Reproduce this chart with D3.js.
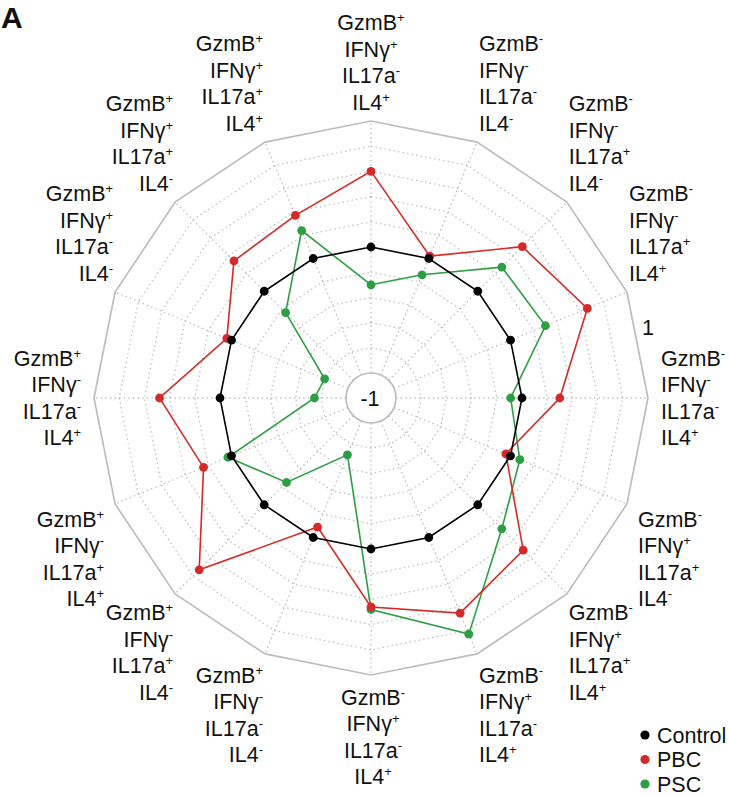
<!DOCTYPE html>
<html>
<head>
<meta charset="utf-8">
<script src="https://cdn.jsdelivr.net/npm/d3@7"></script>
<style>
  body { margin: 0; background: #fff; }
  svg { display: block; }
  text { font-family: "Liberation Sans", Arial, Helvetica, sans-serif; fill: #111; }
</style>
</head>
<body>
<svg id="chart" width="729" height="797"></svg>
<script>
// Phenotype combinations, clockwise from 12 o'clock
const categories = [
  "GzmB+ IFNγ+ IL17a- IL4+",
  "GzmB- IFNγ- IL17a- IL4-",
  "GzmB- IFNγ- IL17a+ IL4-",
  "GzmB- IFNγ- IL17a+ IL4+",
  "GzmB- IFNγ- IL17a- IL4+",
  "GzmB- IFNγ+ IL17a+ IL4-",
  "GzmB- IFNγ+ IL17a+ IL4+",
  "GzmB- IFNγ+ IL17a- IL4+",
  "GzmB- IFNγ+ IL17a- IL4+",
  "GzmB+ IFNγ- IL17a- IL4-",
  "GzmB+ IFNγ- IL17a+ IL4-",
  "GzmB+ IFNγ- IL17a+ IL4+",
  "GzmB+ IFNγ- IL17a- IL4+",
  "GzmB+ IFNγ+ IL17a- IL4-",
  "GzmB+ IFNγ+ IL17a+ IL4-",
  "GzmB+ IFNγ+ IL17a+ IL4+"
];

const controlValues = [0, 0, 0, 0, 0, 0, 0, 0, 0, 0, 0, 0, 0, 0, 0, 0];
const pbcValues = [0.60, 0.02, 0.50, 0.66, 0.30, -0.04, 0.51, 0.65, 0.46, -0.09, 0.73, 0.24, 0.48, 0.04, 0.34, 0.37];
const pscValues = [-0.30, -0.14, 0.27, 0.30, -0.09, 0.08, 0.27, 0.83, 0.48, -0.71, -0.25, 0.03, -0.75, -0.80, -0.24, 0.24];

const seriesNames = ["Control", "PBC", "PSC"];
const seriesColors = ["#000000", "#d42a2a", "#2e9e44"];
const gridTicks = [-1, -0.8, -0.6, -0.4, -0.2, 0, 0.2, 0.4, 0.6, 0.8, 1];
const rangeLabels = ["-1", "1"];

const series = [
  { name: seriesNames[0], color: seriesColors[0], values: controlValues },
  { name: seriesNames[1], color: seriesColors[1], values: pbcValues },
  { name: seriesNames[2], color: seriesColors[2], values: pscValues }
];

const svg = d3.select("#chart");
const cx = 371, cy = 398;
const innerR = 25, outerR = 277;
const n = categories.length;

const rScale = d3.scaleLinear().domain([-1, 1]).range([innerR, outerR]);
const aScale = d3.scaleLinear().domain([0, n]).range([0, 2 * Math.PI]);

const g = svg.append("g").attr("transform", `translate(${cx},${cy})`);

const ring = d3.lineRadial()
  .angle((d, i) => aScale(i))
  .radius(d => rScale(d))
  .curve(d3.curveLinearClosed);

const polar = (a, rad) => [rad * Math.sin(a), -rad * Math.cos(a)];

// dotted inner rings
const innerTicks = gridTicks.slice(1, -1);
g.append("g").selectAll("path")
  .data(innerTicks)
  .join("path")
  .attr("d", t => ring(d3.range(n).map(() => t)))
  .attr("fill", "none")
  .attr("stroke", "#bcbcbc")
  .attr("stroke-width", 1.3)
  .attr("stroke-dasharray", "1.4,3.2");

// dotted spokes
g.append("g").selectAll("line")
  .data(d3.range(n))
  .join("line")
  .attr("x1", i => polar(aScale(i), rScale(-1))[0])
  .attr("y1", i => polar(aScale(i), rScale(-1))[1])
  .attr("x2", i => polar(aScale(i), rScale(1))[0])
  .attr("y2", i => polar(aScale(i), rScale(1))[1])
  .attr("stroke", "#bcbcbc")
  .attr("stroke-width", 1.3)
  .attr("stroke-dasharray", "1.4,3.2");

// outer frame
g.append("path")
  .attr("d", ring(d3.range(n).map(() => gridTicks[gridTicks.length - 1])))
  .attr("fill", "none")
  .attr("stroke", "#bdbdbd")
  .attr("stroke-width", 1.7);

// centre hole
g.append("circle")
  .attr("r", rScale(gridTicks[0]))
  .attr("fill", "#fff")
  .attr("stroke", "#bdbdbd")
  .attr("stroke-width", 1.7);

g.append("text")
  .attr("x", -1).attr("y", 8)
  .attr("text-anchor", "middle")
  .attr("font-size", 21.5)
  .text(rangeLabels[0]);

const maxPos = polar(aScale(n * 0.21), rScale(1) + 9);
g.append("text")
  .attr("x", maxPos[0]).attr("y", maxPos[1] + 8)
  .attr("text-anchor", "middle")
  .attr("font-size", 21.5)
  .text(rangeLabels[1]);

// series lines and markers
const line = d3.lineRadial()
  .angle((d, i) => aScale(i))
  .radius(d => rScale(d))
  .curve(d3.curveLinearClosed);

const drawOrder = [2, 1, 0];
drawOrder.forEach(k => {
  const s = series[k];
  g.append("path")
    .attr("d", line(s.values))
    .attr("fill", "none")
    .attr("stroke", s.color)
    .attr("stroke-width", 1.6);
});
drawOrder.forEach(k => {
  const s = series[k];
  g.append("g").selectAll("circle")
    .data(s.values)
    .join("circle")
    .attr("cx", (d, i) => polar(aScale(i), rScale(d))[0])
    .attr("cy", (d, i) => polar(aScale(i), rScale(d))[1])
    .attr("r", 4.4)
    .attr("fill", s.color);
});

// category labels
const fontSize = 21.5, lineH = 26.5, capMid = 7.7;

function writeMarker(textSel, token) {
  const m = token.match(/^(.*?)([+-])$/);
  const base = m ? m[1] : token;
  textSel.append("tspan").text(base);
  if (m) {
    textSel.append("tspan")
      .attr("font-size", 13)
      .attr("dy", -8)
      .text(m[2]);
  }
}

categories.forEach((label, i) => {
  const a = aScale(i);
  const s = Math.sin(a), c = Math.cos(a);
  const [vx, vy] = polar(a, rScale(1));
  const lines = label.split(" ");
  const anchor = Math.abs(s) < 0.1 ? "middle" : (s > 0 ? "start" : "end");
  let dx;
  if (Math.abs(c) < 0.1) dx = 13 * Math.sign(s);
  else if (c < 0 && Math.abs(s) > 0.9) dx = 11 * Math.sign(s);
  else dx = 2 * Math.sign(s);
  let firstMid;
  if (c > 0.1) firstMid = vy - 19 - (lines.length - 1) * lineH;
  else if (c < -0.1) firstMid = vy + 11 + 11 * Math.abs(c);
  else firstMid = vy - (lines.length - 1) * lineH / 2;

  lines.forEach((tok, j) => {
    const t = g.append("text")
      .attr("x", vx + dx)
      .attr("y", firstMid + j * lineH + capMid)
      .attr("text-anchor", anchor)
      .attr("font-size", fontSize);
    writeMarker(t, tok);
  });
});

// legend
const legend = svg.append("g").attr("transform", "translate(645,735)");
series.forEach((s, k) => {
  const row = legend.append("g").attr("transform", `translate(0,${k * 24.5})`);
  row.append("circle").attr("r", 4.6).attr("fill", s.color);
  row.append("text")
    .attr("x", 12).attr("y", 7.7)
    .attr("font-size", 21.5)
    .text(s.name);
});

// panel letter
svg.append("text")
  .attr("x", 1).attr("y", 28)
  .attr("font-size", 30)
  .attr("font-weight", "bold")
  .text("A");
</script>
</body>
</html>
